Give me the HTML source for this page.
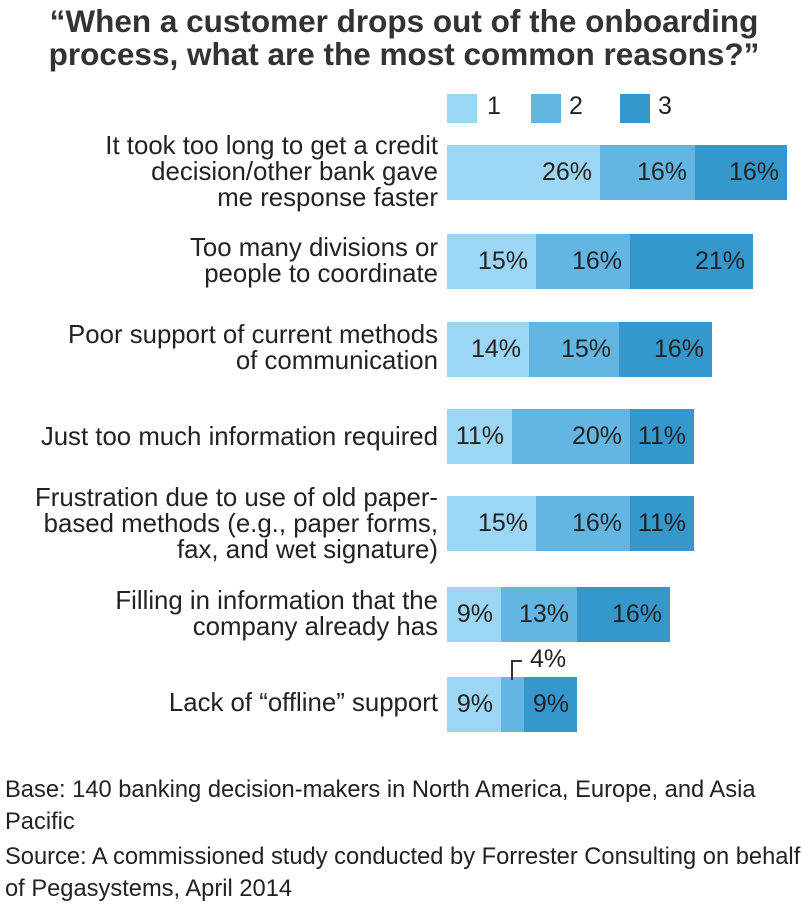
<!DOCTYPE html><html><head><style>
body{margin:0;width:808px;height:906px;background:#fff;font-family:"Liberation Sans",sans-serif;color:#222;position:relative;overflow:hidden}
.t{position:absolute;left:0;width:808px;text-align:center;font-weight:bold;font-size:31.5px;line-height:33px;top:5px;color:#333;white-space:nowrap}
.l{position:absolute;right:370px;text-align:right;font-size:25.8px;line-height:26px;white-space:nowrap}
.b{position:absolute;height:55px;font-size:25px;line-height:55px;box-sizing:border-box;text-align:right;padding-right:8px;white-space:nowrap}
.c1{background:#9dd6f5}.c2{background:#64b6e2}.c3{background:#3597cc}
.sq{position:absolute;top:94px;width:30px;height:29px}
.lg{position:absolute;top:92px;font-size:25px}
.f{position:absolute;left:5px;font-size:23.7px;line-height:32px;white-space:nowrap}
</style></head><body>
<div class="t">“When a customer drops out of the onboarding<br>process, what are the most common reasons?”</div>
<div class="sq c1" style="left:447px"></div><div class="lg" style="left:487px">1</div>
<div class="sq c2" style="left:531px"></div><div class="lg" style="left:569px">2</div>
<div class="sq c3" style="left:620px"></div><div class="lg" style="left:658px">3</div>

<div class="l" style="top:133px">It took too long to get a credit<br>decision/other bank gave<br>me response faster</div>
<div class="b c1" style="left:447px;width:153px;top:145px">26%</div><div class="b c2" style="left:600px;width:95px;top:145px">16%</div><div class="b c3" style="left:695px;width:92px;top:145px">16%</div>

<div class="l" style="top:235px">Too many divisions or<br>people to coordinate</div>
<div class="b c1" style="left:447px;width:89px;top:234px">15%</div><div class="b c2" style="left:536px;width:94px;top:234px">16%</div><div class="b c3" style="left:630px;width:123px;top:234px">21%</div>

<div class="l" style="top:322px">Poor support of current methods<br>of communication</div>
<div class="b c1" style="left:447px;width:82px;top:322px">14%</div><div class="b c2" style="left:529px;width:90px;top:322px">15%</div><div class="b c3" style="left:619px;width:93px;top:322px">16%</div>

<div class="l" style="top:424px">Just too much information required</div>
<div class="b c1" style="left:447px;width:65px;top:409px">11%</div><div class="b c2" style="left:512px;width:118px;top:409px">20%</div><div class="b c3" style="left:630px;width:64px;top:409px">11%</div>

<div class="l" style="top:485px">Frustration due to use of old paper-<br>based methods (e.g., paper forms,<br>fax, and wet signature)</div>
<div class="b c1" style="left:447px;width:89px;top:496px">15%</div><div class="b c2" style="left:536px;width:94px;top:496px">16%</div><div class="b c3" style="left:630px;width:64px;top:496px">11%</div>

<div class="l" style="top:588px">Filling in information that the<br>company already has</div>
<div class="b c1" style="left:447px;width:54px;top:587px">9%</div><div class="b c2" style="left:501px;width:76px;top:587px">13%</div><div class="b c3" style="left:577px;width:93px;top:587px">16%</div>

<div class="l" style="top:690px">Lack of “offline” support</div>
<div class="b c1" style="left:447px;width:54px;top:677px">9%</div><div class="b c2" style="left:501px;width:23px;top:677px"></div><div class="b c3" style="left:524px;width:53px;top:677px">9%</div>
<div style="position:absolute;left:511px;top:660px;width:9px;height:18px;border-left:2px solid #333;border-top:2px solid #333"></div>
<div style="position:absolute;left:530px;top:645px;font-size:25px">4%</div>

<div class="f" style="top:774px">Base: 140 banking decision-makers in North America, Europe, and Asia<br>Pacific</div>
<div class="f" style="top:841px">Source: A commissioned study conducted by Forrester Consulting on behalf<br>of Pegasystems, April 2014</div>
</body></html>
